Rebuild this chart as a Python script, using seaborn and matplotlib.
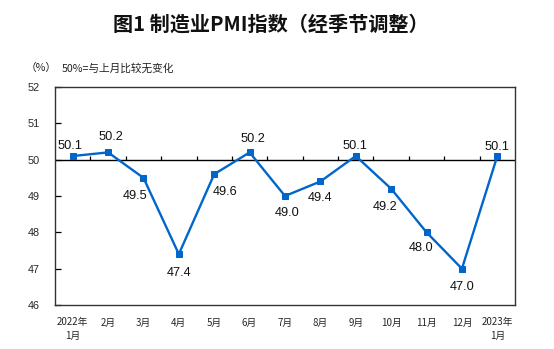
import matplotlib
matplotlib.use("Agg")
import matplotlib.pyplot as plt
import seaborn as sns
import pandas as pd
import numpy as np

months = ["2022年\n1月", "2月", "3月", "4月", "5月", "6月", "7月", "8月", "9月",
          "10月", "11月", "12月", "2023年\n1月"]
pmi = [50.1, 50.2, 49.5, 47.4, 49.6, 50.2, 49.0, 49.4, 50.1, 49.2, 48.0, 47.0, 50.1]
y_ticks = [46, 47, 48, 49, 50, 51, 52]
# label offsets in pixels (dx, dy) for data labels
label_offsets = [(-3, 10), (3, 15), (-8, -18), (0, -19), (11, -18), (3, 13), (2, -17),
                 (0, -17), (-1, 10), (-6, -18), (-5, -16), (0, -18), (0, 9)]

sns.set_theme(style="white")
plt.rcParams['font.family'] = ['Noto Sans CJK SC', 'DejaVu Sans']

df = pd.DataFrame({"idx": np.arange(len(months)), "pmi": pmi})

fig = plt.figure(figsize=(5.54, 3.49), dpi=100)
ax = fig.add_axes([55/554, 1-305/349, 460/554, 218/349])

blue = "#0066cc"
sns.lineplot(data=df, x="idx", y="pmi", ax=ax, color=blue, linewidth=1.7,
             marker="s", markersize=5, markeredgecolor=blue, markerfacecolor=blue)

ax.set_xlim(-0.5, len(months) - 0.5)
ax.set_ylim(46, 52)
ax.set_xlabel("")
ax.set_ylabel("")

# x axis line at 50
ax.axhline(50, color="black", linewidth=1, zorder=1)
bounds = np.arange(len(months) - 1) + 0.5
ax.vlines(bounds, 50, 50.11, color="black", linewidth=0.9, zorder=1)

ax.set_xticks(np.arange(len(months)))
ax.set_xticklabels(months, fontsize=7, linespacing=1.45, va="top")
ax.tick_params(axis="x", length=0, pad=9)
ax.set_yticks(y_ticks)
ax.set_yticklabels([str(v) for v in y_ticks], fontsize=7.8, family="Liberation Sans")
ax.tick_params(axis="y", direction="in", length=4, width=0.9, left=True, pad=11, color="black")

for s in ax.spines.values():
    s.set_color("#333333")
    s.set_linewidth(1)
    s.set_visible(True)

for i, (v, (dx, dy)) in enumerate(zip(pmi, label_offsets)):
    ax.annotate(f"{v:.1f}", (i, v), xytext=(dx * 0.72, dy * 0.72), textcoords="offset points",
                ha="center", va="center", fontsize=9.2, family="Liberation Sans", color="#111111")

fig.text(271/554, 1-24/349, "图1 制造业PMI指数（经季节调整）", ha="center", va="center",
         fontsize=14.5, fontweight="bold", color="#111111")
fig.text(26/554, 1-68/349, "（%）", ha="left", va="center", fontsize=7.7, color="#222222")
fig.text(62/554, 1-68/349, "50%=与上月比较无变化", ha="left", va="center", fontsize=7.7, color="#222222")

fig.savefig("out.png", dpi=100)
